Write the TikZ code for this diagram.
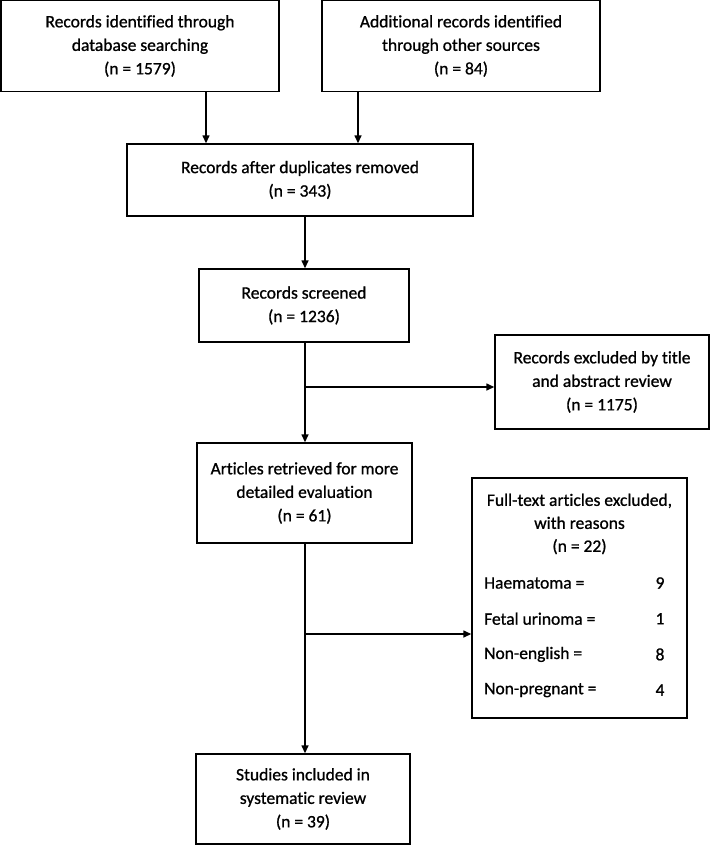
\documentclass[tikz,border=0pt]{standalone}
\usepackage{fontspec}
\setmainfont[Ligatures=NoCommon]{Carlito}
\newfontfamily\boxfont[Ligatures=NoCommon, FakeBold=0.9]{Carlito}
\usepackage{tikz}
\usetikzlibrary{arrows.meta,positioning}

\tikzset{
  flowbox/.style={draw=black, line width=1.4pt, align=center, inner sep=2pt,
    font=\boxfont\fontsize{17.5}{23.5}\selectfont},
  flowarrow/.style={line width=1.4pt, -{Triangle[length=8pt,width=7pt]}},
  reason/.style={font=\boxfont\fontsize{17.5}{23}\selectfont, inner sep=0pt}
}

\begin{document}
\begin{tikzpicture}[x=1pt,y=-1pt]
  \useasboundingbox (0,0) rectangle (710,846);

  % identification
  \node[flowbox, minimum width=278pt, minimum height=91pt] (ident) at (140,46) {Records identified through\\database searching\\(n = 1579)};
  \node[flowbox, minimum width=278pt, minimum height=91pt] (other) at (461,46) {Additional records identified\\through other sources\\(n = 84)};

  % screening
  \node[flowbox, minimum width=346pt, minimum height=72pt] (dupl) at (300,180) {Records after duplicates removed\\(n = 343)};
  \node[flowbox, minimum width=210pt, minimum height=73pt] (screened) at (304,305.5) {Records screened\\(n = 1236)};
  \node[flowbox, minimum width=214pt, minimum height=94pt] (exclTitle) at (602,382) {Records excluded by title\\and abstract review\\(n = 1175)};

  % eligibility
  \node[flowbox, minimum width=215pt, minimum height=100pt] (retrieved) at (304.5,493) {Articles retrieved for more\\detailed evaluation\\(n = 61)};
  \node[flowbox, minimum width=215pt, minimum height=240pt] (exclFull) at (579.5,598) {};
  \node[reason, align=center] (exclHead) at (579.5,524) {Full-text articles excluded,\\with reasons\\(n = 22)};
  \foreach \lab/\num [count=\i] in {Haematoma/9, Fetal urinoma/1, Non-english/8, Non-pregnant/4} {
    \pgfmathsetmacro{\rowy}{583+(\i-1)*35.7}
    \node[reason, anchor=west] (lab\i) at (484,\rowy) {\lab\ =};
    \node[reason] (num\i) at (660,\rowy) {\num};
  }

  % included
  \node[flowbox, minimum width=214pt, minimum height=90pt] (included) at (303,799) {Studies included in\\systematic review\\(n = 39)};

  % connectors
  \coordinate (identx) at (206,0);
  \coordinate (otherx) at (358,0);
  \coordinate (mainx) at (305,0);
  \draw[flowarrow] (ident.south -| identx) -- (dupl.north -| identx);
  \draw[flowarrow] (other.south -| otherx) -- (dupl.north -| otherx);
  \draw[flowarrow] (dupl.south -| mainx) -- (screened.north -| mainx);
  \draw[flowarrow] (screened.south -| mainx) -- (retrieved.north -| mainx);
  \coordinate (branchA) at (305,387);
  \draw[flowarrow] (branchA) -- (branchA -| exclTitle.west);
  \draw[flowarrow] (retrieved.south -| mainx) -- (included.north -| mainx);
  \coordinate (branchB) at (305,634);
  \draw[flowarrow] (branchB) -- (branchB -| exclFull.west);
\end{tikzpicture}
\end{document}
